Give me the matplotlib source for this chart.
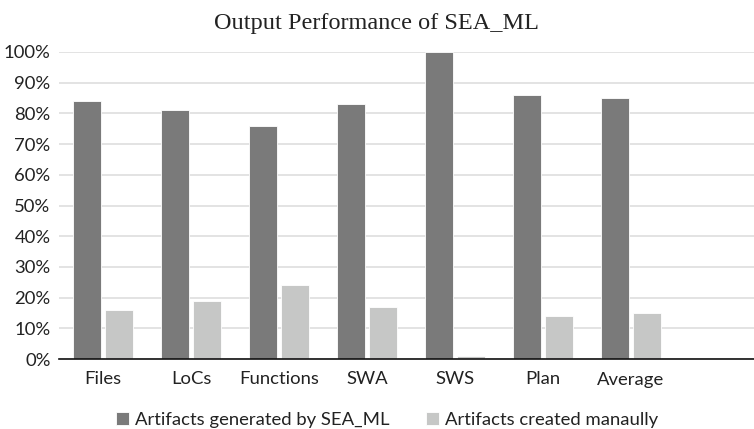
import matplotlib

matplotlib.use("Agg")
import matplotlib.pyplot as plt
import numpy as np
from matplotlib.ticker import PercentFormatter

categories = ["Files", "LoCs", "Functions", "SWA", "SWS", "Plan", "Average"]
generated = [0.84, 0.81, 0.76, 0.83, 1.00, 0.86, 0.85]
manual = [0.16, 0.19, 0.24, 0.17, 0.01, 0.14, 0.15]
series_names = ["Artifacts generated by SEA_ML", "Artifacts created manaully"]

DARK, LIGHT, GRID = "#7a7a7a", "#c6c7c6", "#dedede"
SANS = ["Lato", "DejaVu Sans"]

fig = plt.figure(figsize=(7.54, 4.29), dpi=100)
ax = fig.add_axes([59 / 754, 1 - 359 / 429, 1 - 59 / 754, (359 - 52) / 429])

x = np.arange(len(categories))
w = 0.32
ax.bar(x - w / 2 - 0.02, generated, w, color=DARK, edgecolor="white", lw=0.6,
       label=series_names[0], zorder=3)
ax.bar(x + w / 2 + 0.02, manual, w, color=LIGHT, edgecolor="white", lw=0.6,
       label=series_names[1], zorder=3)

ax.set_xlim(-0.5, 7.4)
ax.set_ylim(0, 1.0)
ax.set_yticks(np.arange(0, 1.01, 0.1))
ax.yaxis.set_major_formatter(PercentFormatter(1.0, decimals=0))
ax.set_xticks(x)
ax.set_xticklabels(categories)
ax.tick_params(length=0, labelsize=13.3, colors="#222222")
ax.tick_params(axis="x", pad=9)
ax.tick_params(axis="y", pad=6)
for lab in ax.get_xticklabels() + ax.get_yticklabels():
    lab.set_family(SANS)

ax.grid(axis="y", color=GRID, lw=1.2, zorder=0)
for s in ("top", "right", "left"):
    ax.spines[s].set_visible(False)
ax.spines["bottom"].set_color("#111111")
ax.spines["bottom"].set_linewidth(1.2)
ax.spines["bottom"].set_zorder(4)

fig.text(376 / 754, 1 - 23 / 429, "Output Performance of SEA_ML", ha="center", va="center",
         family="Liberation Serif", fontsize=17.5, color="#222222")

fig.legend(loc="center", bbox_to_anchor=(387 / 754, 1 - 420 / 429), ncol=2, frameon=False,
           prop={"family": SANS, "size": 13.3}, handlelength=0.7, handleheight=0.7,
           handletextpad=0.3, columnspacing=2.0, labelcolor="#222222")

fig.savefig("out.png", dpi=100)
